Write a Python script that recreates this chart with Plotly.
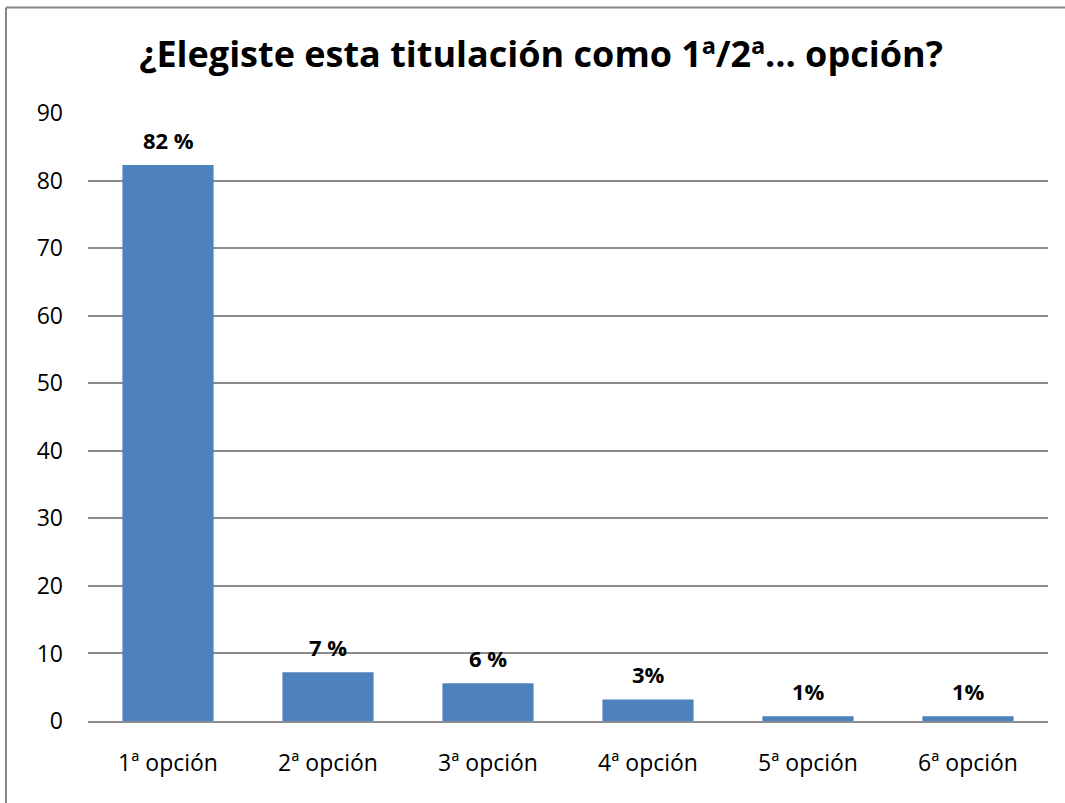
import plotly.graph_objects as go

# Datos
categorias = ["1ª opción", "2ª opción", "3ª opción", "4ª opción", "5ª opción", "6ª opción"]
porcentajes = [82.3, 7.2, 5.6, 3.2, 0.7, 0.7]
etiquetas = ["82 %", "7 %", "6 %", "3%", "1%", "1%"]
ticks_y = [0, 10, 20, 30, 40, 50, 60, 70, 80, 90]

W, H = 1065, 803
L, R, T, B = 88, 17, 113, 82
pw, ph = W - L - R, H - T - B
FUENTE = "Open Sans"

fig = go.Figure(go.Bar(
    x=categorias,
    y=porcentajes,
    marker=dict(color="#4F81BD", line=dict(width=0)),
    hoverinfo="x+y",
))

# etiquetas de datos encima de cada barra
for cat, val, txt in zip(categorias, porcentajes, etiquetas):
    fig.add_annotation(
        x=cat, y=val, text=f"<b>{txt}</b>",
        showarrow=False, yanchor="bottom", yshift=8,
        font=dict(family=FUENTE, size=22, color="black"),
    )

fig.update_layout(
    width=W, height=H,
    margin=dict(l=L, r=R, t=T, b=B),
    paper_bgcolor="white",
    plot_bgcolor="white",
    bargap=0.43,
    showlegend=False,
    title=dict(
        text="<b>¿Elegiste esta titulación como 1ª/2ª... opción?</b>",
        font=dict(family=FUENTE, size=36, color="black"),
        x=0.508, xanchor="center",
        y=1 - 54 / H, yanchor="middle",
    ),
    font=dict(family=FUENTE, size=23, color="black"),
)

fig.update_yaxes(
    range=[0, 90],
    tickvals=ticks_y,
    showgrid=True, gridcolor="#8c8c8c", gridwidth=1.5,
    zeroline=False,
    showline=False,
    ticks="",
    tickfont=dict(size=23),
    ticklabelstandoff=24,
    automargin=False,
)
fig.update_xaxes(
    showline=True, linecolor="#8c8c8c", linewidth=2,
    ticks="", tickfont=dict(size=23),
    ticklabelstandoff=20,
    automargin=False,
)

# marco del gráfico: sólo se ven el borde superior y el izquierdo
x_izq = (6 - L) / pw
y_sup = (H - B - 7.5) / ph
borde = dict(color="#868686", width=2)
fig.add_shape(type="line", xref="paper", yref="paper",
              x0=x_izq, x1=(W - L) / pw, y0=y_sup, y1=y_sup, line=borde)
fig.add_shape(type="line", xref="paper", yref="paper",
              x0=x_izq, x1=x_izq, y0=y_sup, y1=-B / ph, line=borde)

fig.write_html(
    "out.html",
    config={"displayModeBar": False},
    post_script="document.body.style.margin='0';document.body.style.overflow='hidden';",
)
